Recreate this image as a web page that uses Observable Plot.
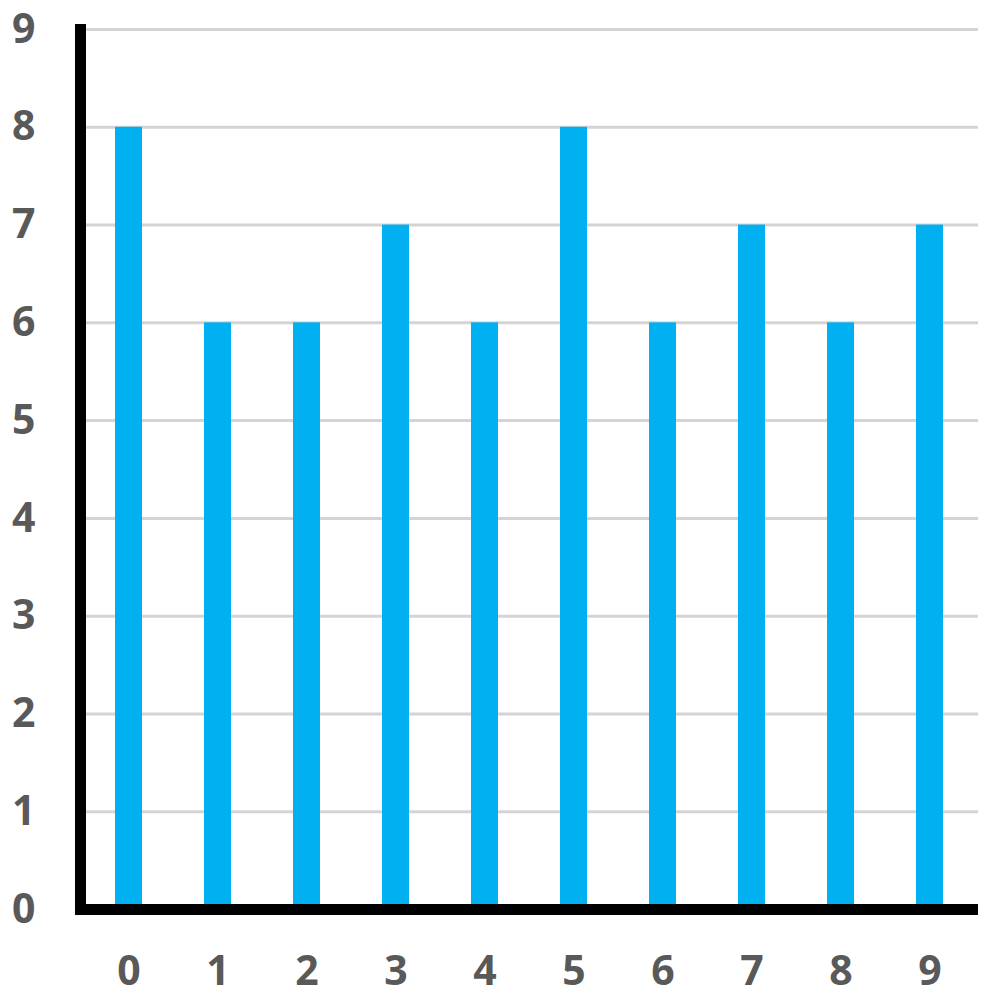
<!DOCTYPE html>
<html>
<head>
<meta charset="utf-8">
<script src="https://cdn.jsdelivr.net/npm/d3@7"></script>
<script src="https://cdn.jsdelivr.net/npm/@observablehq/plot@0.6"></script>
<style>
  body { margin: 0; background: #fff; }
  svg { display: block; }
</style>
</head>
<body>
<div id="chart"></div>
<script>
const categories = ["0","1","2","3","4","5","6","7","8","9"];
const values = [8, 6, 6, 7, 6, 8, 6, 7, 6, 7];
const yTicks = [0,1,2,3,4,5,6,7,8,9];

const data = categories.map((c, i) => ({cat: c, value: values[i]}));

const chart = Plot.plot({
  width: 1000,
  height: 998,
  marginLeft: 80,
  marginRight: 22,
  marginTop: 29,
  marginBottom: 89,
  style: {fontFamily: "'Open Sans', sans-serif", fontWeight: "bold", fontSize: "40px", color: "#595959", background: "#fff"},
  x: {domain: categories, paddingInner: 0.7, paddingOuter: 0.36, label: null},
  y: {domain: [0, 9], label: null},
  marks: [
    Plot.ruleY(yTicks.filter(d => d > 0), {stroke: "#d4d4d4", strokeWidth: 3, strokeOpacity: 1}),
    Plot.barY(data, {x: "cat", y: "value", fill: "#00b0f0"}),
    Plot.axisY({ticks: yTicks, tickSize: 0, tickPadding: 45, fill: "#595959", fontSize: 41, fontWeight: "bold", label: null}),
    Plot.axisX({tickSize: 0, tickPadding: 46, fill: "#595959", fontSize: 41, fontWeight: "bold", label: null}),
    Plot.frame({anchor: "left", stroke: "black", strokeWidth: 11}),
    Plot.ruleY([0], {stroke: "black", strokeWidth: 11})
  ]
});
document.getElementById("chart").appendChild(chart);
</script>
</body>
</html>
